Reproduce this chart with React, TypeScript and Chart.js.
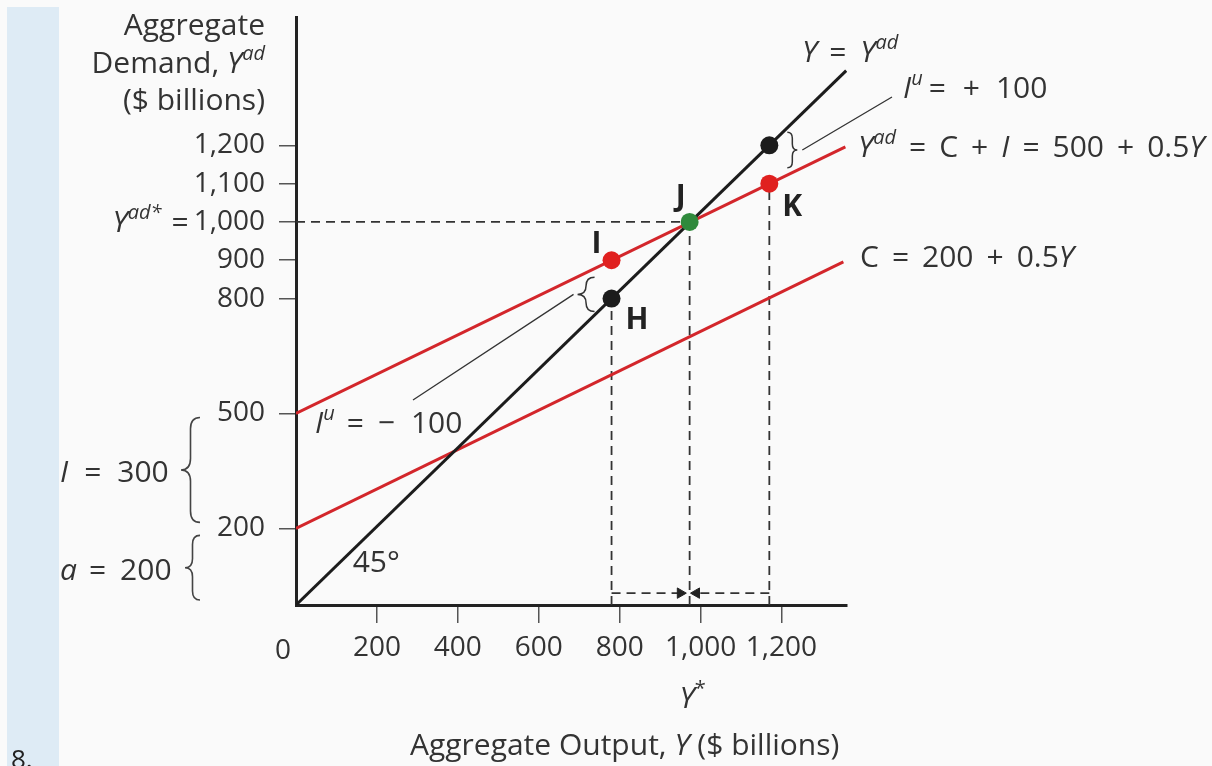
import React, { useEffect, useRef } from 'react';
import { Chart, registerables } from 'chart.js';

Chart.register(...registerables);

// ---- data ----
const xTickValues = [200, 400, 600, 800, 1000, 1200];
const yTickValues = [200, 500, 800, 900, 1000, 1100, 1200];
const xMax = 1362;
const yMax = 1535;

const diagonalX = [0, 1360];
const diagonalY = [0, 1395];
const demandX = [0, 1358];
const demandY = [500, 1196];
const consumptionX = [0, 1353];
const consumptionY = [200, 896];

const pointNames = ['H', 'I', 'J', 'K', ''];
const pointKinds = ['output', 'demand', 'equilibrium', 'demand', 'output'];
const pointX = [780, 780, 973, 1170, 1170];
const pointY = [800, 900, 1000, 1100, 1200];

const guideX = [780, 973, 1170];
const guideTop = [800, 1000, 1100];
const equilibriumX = 973;
const equilibriumY = 1000;

const arrowLevel = 31;
const arrowTailX = [780, 1170];
const arrowHeadX = [950, 990];

// ---- styles ----
const FONT = '"Open Sans"';
const FS = 30;
const TICK_FS = 28;
const TEXT = '#333';
const RED = '#d3262b';
const DOT_RED = '#e0201f';
const GREEN = '#2f8a3c';
const BLACK = '#1c1c1c';

type Part = [string, string];
const gap = (n: number): Part => [String(n), 'g'];

function fontFor(style: string, size: number) {
  const italic = style === 'i' || style === 's';
  const bold = style === 'b';
  const sup = style === 's' || style === 'S';
  const px = sup ? Math.round(size * 0.68) : size;
  return `${italic ? 'italic ' : ''}${bold ? 'bold ' : ''}${px}px ${FONT}`;
}

function partWidth(ctx: CanvasRenderingContext2D, part: Part, size: number) {
  if (part[1] === 'g') return Number(part[0]);
  ctx.font = fontFor(part[1], size);
  return ctx.measureText(part[0]).width;
}

function drawRich(
  ctx: CanvasRenderingContext2D,
  parts: Part[],
  x: number,
  y: number,
  size = FS,
  align: 'left' | 'right' | 'center' = 'left',
  color = TEXT
) {
  let w = 0;
  for (const p of parts) w += partWidth(ctx, p, size);
  let cx = align === 'left' ? x : align === 'right' ? x - w : x - w / 2;
  ctx.save();
  ctx.fillStyle = color;
  ctx.textAlign = 'left';
  ctx.textBaseline = 'alphabetic';
  for (const p of parts) {
    const [t, s] = p;
    if (s !== 'g') {
      ctx.font = fontFor(s, size);
      const sup = s === 's' || s === 'S';
      ctx.fillText(t, cx, sup ? y - size * 0.42 : y);
    }
    cx += partWidth(ctx, p, size);
  }
  ctx.restore();
}

function brace(ctx: CanvasRenderingContext2D, xBack: number, xTip: number, y1: number, y2: number) {
  const xm = (xBack + xTip) / 2;
  const ym = (y1 + y2) / 2;
  const r = Math.min(Math.abs(xBack - xTip) * 0.6, (y2 - y1) / 4);
  ctx.beginPath();
  ctx.moveTo(xBack, y1);
  ctx.quadraticCurveTo(xm, y1, xm, y1 + r);
  ctx.lineTo(xm, ym - r);
  ctx.quadraticCurveTo(xm, ym, xTip, ym);
  ctx.quadraticCurveTo(xm, ym, xm, ym + r);
  ctx.lineTo(xm, y2 - r);
  ctx.quadraticCurveTo(xm, y2, xBack, y2);
  ctx.stroke();
}

const backgroundPlugin = {
  id: 'bg',
  beforeDraw(chart: any) {
    const ctx: CanvasRenderingContext2D = chart.ctx;
    ctx.save();
    ctx.fillStyle = '#fafafa';
    ctx.fillRect(0, 0, chart.width, chart.height);
    ctx.fillStyle = '#deebf5';
    ctx.fillRect(7, 7, 52, chart.height - 7);
    ctx.restore();
  },
};

const annotationPlugin = {
  id: 'notes',
  afterDraw(chart: any) {
    const ctx: CanvasRenderingContext2D = chart.ctx;
    const xs = chart.scales.x;
    const ys = chart.scales.y;
    const px = (v: number) => xs.getPixelForValue(v);
    const py = (v: number) => ys.getPixelForValue(v);
    const capHalf = FS * 0.357;

    // y axis title
    drawRich(ctx, [['Aggregate', 'n']], 265, 35, FS, 'right');
    drawRich(ctx, [['Demand, ', 'n'], ['Y', 'i'], ['ad', 's']], 265, 73, FS, 'right');
    drawRich(ctx, [['($ billions)', 'n']], 265, 110, FS, 'right');

    // Yad* = prefix beside the 1,000 tick label
    ctx.font = `${TICK_FS}px ${FONT}`;
    const lblW = ctx.measureText('1,000').width;
    const yTickLabelRight = px(0) - 17 - 14;
    drawRich(
      ctx,
      [['Y', 'i'], ['ad*', 's'], gap(10), ['=', 'n']],
      yTickLabelRight - lblW - 5,
      py(equilibriumY) + TICK_FS * 0.357,
      FS,
      'right'
    );

    // "0" x label
    drawRich(ctx, [['0', 'n']], px(0) - 13, 659, TICK_FS, 'center');

    // left braces: I = 300, a = 200
    ctx.save();
    ctx.strokeStyle = '#444';
    ctx.lineWidth = 1.6;
    brace(ctx, 200, 181, py(500) + 4, py(200) - 6);
    brace(ctx, 200, 185, py(200) + 7, py(0) - 5);
    ctx.restore();
    drawRich(ctx, [['I', 'i'], gap(16), ['=', 'n'], gap(16), ['300', 'n']], 60, (py(500) + py(200)) / 2 + capHalf, FS, 'left');
    drawRich(ctx, [['a', 'i'], gap(12), ['=', 'n'], gap(14), ['200', 'n']], 60, (py(200) + py(0)) / 2 + capHalf + 3, FS, 'left');

    // 45 degree label
    drawRich(ctx, [['45°', 'n']], px(140), py(86), FS, 'left');

    // unplanned inventory braces and leaders
    const hx = px(pointX[0]);
    const kx = px(pointX[3]);
    const lowTop = py(pointY[1]) + 17;
    const lowBot = py(pointY[0]) + 13;
    const upTop = py(pointY[4]) - 13;
    const upBot = py(pointY[3]) - 16;
    ctx.save();
    ctx.strokeStyle = '#333';
    ctx.lineWidth = 1.5;
    brace(ctx, hx - 17, hx - 34, lowTop, lowBot);
    brace(ctx, kx + 18, kx + 28, upTop, upBot);
    ctx.lineWidth = 1.3;
    ctx.beginPath();
    ctx.moveTo(413, 400);
    ctx.lineTo(hx - 38, (lowTop + lowBot) / 2);
    ctx.moveTo(kx + 33, (upTop + upBot) / 2);
    ctx.lineTo(892, 97);
    ctx.stroke();
    ctx.restore();

    drawRich(ctx, [['I', 'i'], ['u', 's'], gap(12), ['=', 'n'], gap(14), ['−', 'n'], gap(16), ['100', 'n']], 315, 433, FS, 'left');
    drawRich(ctx, [['I', 'i'], ['u', 's'], gap(6), ['=', 'n'], gap(17), ['+', 'n'], gap(16), ['100', 'n']], 903, 98, FS, 'left');

    // line labels
    drawRich(ctx, [['Y', 'i'], gap(12), ['=', 'n'], gap(14), ['Y', 'i'], ['ad', 's']], 802, 62, FS, 'left');
    const g = 13;
    drawRich(
      ctx,
      [
        ['Y', 'i'],
        ['ad', 's'],
        gap(g),
        ['=', 'n'],
        gap(g),
        ['C', 'n'],
        gap(g),
        ['+', 'n'],
        gap(g),
        ['I', 'i'],
        gap(g),
        ['=', 'n'],
        gap(g),
        ['500', 'n'],
        gap(g),
        ['+', 'n'],
        gap(g),
        ['0.5', 'n'],
        ['Y', 'i'],
      ],
      858,
      157,
      FS,
      'left'
    );
    drawRich(
      ctx,
      [['C', 'n'], gap(g), ['=', 'n'], gap(g), ['200', 'n'], gap(g), ['+', 'n'], gap(g), ['0.5', 'n'], ['Y', 'i']],
      860,
      267,
      FS,
      'left'
    );

    // point letters
    const offsets: Record<string, [number, number]> = {
      H: [14, 30],
      I: [-20, -7],
      J: [-14, -16],
      K: [13, 32],
    };
    pointNames.forEach((n, i) => {
      if (!n) return;
      const o = offsets[n];
      drawRich(ctx, [[n, 'b']], px(pointX[i]) + o[0], py(pointY[i]) + o[1], FS, 'left', '#222');
    });

    // Y* and x title
    drawRich(ctx, [['Y', 'i'], ['*', 'S']], px(equilibriumX) + 3, 708, FS, 'center');
    drawRich(ctx, [['Aggregate Output, ', 'n'], ['Y', 'i'], [' ($ billions)', 'n']], 410, 755, FS, 'left');

    // item number
    drawRich(ctx, [['8.', 'n']], 11, 768, 26, 'left', '#222');
  },
};

function lineDs(xsArr: number[], ysArr: number[], color: string, width: number, dash: number[] = [], order = 2) {
  return {
    data: xsArr.map((x, i) => ({ x, y: ysArr[i] })),
    showLine: true,
    borderColor: color,
    borderWidth: width,
    borderDash: dash,
    pointRadius: 0,
    fill: false,
    order,
  };
}

export default function App() {
  const ref = useRef<HTMLCanvasElement | null>(null);

  useEffect(() => {
    if (!ref.current) return;
    const kindColor = (k: string) => (k === 'equilibrium' ? GREEN : k === 'demand' ? DOT_RED : BLACK);
    const dash = [9, 6];
    const datasets: any[] = [
      {
        data: pointX.map((x, i) => ({ x, y: pointY[i] })),
        pointRadius: 9,
        pointBorderWidth: 0,
        pointBackgroundColor: pointKinds.map(kindColor),
        pointBorderColor: pointKinds.map(kindColor),
        showLine: false,
        order: 0,
      },
      {
        data: arrowHeadX.map((x) => ({ x, y: arrowLevel })),
        pointStyle: 'triangle',
        pointRadius: 6,
        pointRotation: [90, -90],
        pointBackgroundColor: '#222',
        pointBorderColor: '#222',
        pointBorderWidth: 1,
        showLine: false,
        order: 1,
      },
      lineDs(diagonalX, diagonalY, BLACK, 3),
      lineDs(demandX, demandY, RED, 3),
      lineDs(consumptionX, consumptionY, RED, 3),
      lineDs([0, equilibriumX], [equilibriumY, equilibriumY], '#333', 1.8, dash, 3),
      ...guideX.map((gx, i) => lineDs([gx, gx], [0, guideTop[i]], '#333', 1.8, dash, 3)),
      ...arrowTailX.map((tx, i) => lineDs([tx, arrowHeadX[i]], [arrowLevel, arrowLevel], '#333', 1.8, dash, 3)),
    ];

    const chart = new Chart(ref.current, {
      type: 'scatter',
      data: { datasets },
      options: {
        responsive: false,
        animation: false,
        devicePixelRatio: 1,
        layout: { padding: { left: 0, top: 17, right: 365, bottom: 0 } },
        plugins: { legend: { display: false }, tooltip: { enabled: false } },
        scales: {
          x: {
            type: 'linear',
            min: 0,
            max: xMax,
            afterBuildTicks: (s: any) => {
              s.ticks = xTickValues.map((v) => ({ value: v }));
            },
            afterFit: (s: any) => {
              s.height = 161;
              s.paddingLeft = 0;
              s.paddingRight = 0;
              s.paddingTop = 0;
              s.paddingBottom = 0;
            },
            grid: { drawOnChartArea: false, drawTicks: true, tickLength: 18, color: '#555', lineWidth: 1.5 },
            border: { display: true, color: '#222', width: 3 },
            ticks: {
              font: { family: 'Open Sans', size: TICK_FS },
              color: TEXT,
              padding: 8,
              maxRotation: 0,
              autoSkip: false,
              callback: (v: any) => Number(v).toLocaleString('en-US'),
            },
          },
          y: {
            type: 'linear',
            min: 0,
            max: yMax,
            afterBuildTicks: (s: any) => {
              s.ticks = yTickValues.map((v) => ({ value: v }));
            },
            afterFit: (s: any) => {
              s.width = 296;
              s.paddingLeft = 0;
              s.paddingRight = 0;
              s.paddingTop = 0;
              s.paddingBottom = 0;
            },
            grid: { drawOnChartArea: false, drawTicks: true, tickLength: 17, color: '#555', lineWidth: 1.5 },
            border: { display: true, color: '#222', width: 3 },
            ticks: {
              font: { family: 'Open Sans', size: TICK_FS },
              color: TEXT,
              padding: 14,
              autoSkip: false,
              callback: (v: any) => Number(v).toLocaleString('en-US'),
            },
          },
        },
      },
      plugins: [backgroundPlugin, annotationPlugin],
    } as any);

    return () => chart.destroy();
  }, []);

  return (
    <div style={{ position: 'fixed', left: 0, top: 0, width: 1212, height: 766 }}>
      <canvas ref={ref} width={1212} height={766} style={{ width: 1212, height: 766, display: 'block' }} />
    </div>
  );
}
